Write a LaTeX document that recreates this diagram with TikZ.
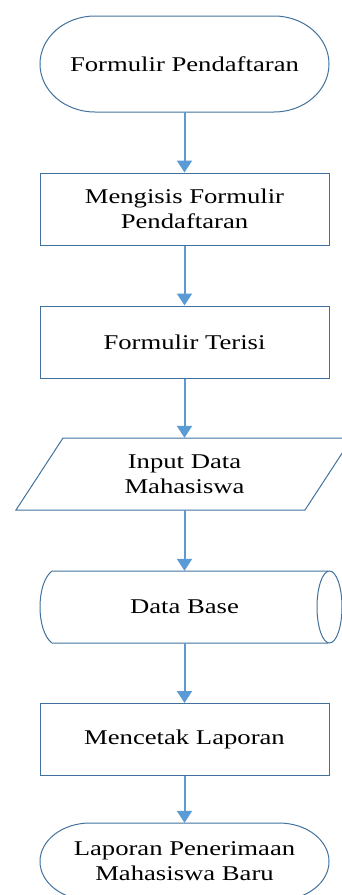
\documentclass[tikz,border=0pt]{standalone}
\usepackage{fontspec}
\setmainfont[FakeStretch=1.27]{Liberation Serif}
\usetikzlibrary{arrows.meta}
\definecolor{edgeblue}{HTML}{41719C}
\definecolor{arrowblue}{HTML}{5B9BD5}
\tikzset{
  flowbox/.style={draw=edgeblue, line width=1pt, minimum width=289pt, minimum height=72pt, align=center, inner sep=0pt, font=\fontsize{21}{25}\selectfont},
  ghost/.style={minimum width=289pt, minimum height=72pt, align=center, inner sep=0pt, font=\fontsize{21}{25}\selectfont},
  outline/.style={draw=edgeblue, line width=1pt},
  flowarrow/.style={draw=arrowblue, line width=2pt, -{Triangle[width=15pt,length=12pt]}}
}
\begin{document}
\begin{tikzpicture}[x=1pt,y=-1pt]
\useasboundingbox (0,0) rectangle (342,895);
% terminal 1
\draw[outline] (95,16) -- (274,16) arc[start angle=-90, end angle=90, x radius=55, y radius=48]
  -- (95,112) arc[start angle=90, end angle=270, x radius=55, y radius=48] -- cycle;
\node[ghost, minimum height=96pt] (t1) at (184.5,64) {Formulir Pendaftaran};
\node[flowbox] (r1) at (184.5,209) {Mengisis Formulir\\Pendaftaran};
\node[flowbox] (r2) at (184.5,342) {Formulir Terisi};
\draw[outline] (63,438) -- (352,438) -- (305,510) -- (16,510) -- cycle;
\node[ghost] (p1) at (184.5,474) {Input Data\\Mahasiswa};
\draw[outline] (52,571) -- (328,571) (52,643) -- (328,643)
  (52,571) .. controls (36,583) and (36,631) .. (52,643);
\draw[outline] (329.5,607) ellipse [x radius=12.5, y radius=36];
\node[ghost] (db) at (184.5,607) {Data Base};
\node[flowbox] (r3) at (184.5,739.5) {Mencetak Laporan};
% terminal 2
\draw[outline] (90,823) -- (279,823) arc[start angle=-90, end angle=90, x radius=50, y radius=38.5]
  -- (90,900) arc[start angle=90, end angle=270, x radius=50, y radius=38.5] -- cycle;
\node[ghost, minimum height=77pt] (t2) at (184.5,861.5) {Laporan Penerimaan\\Mahasiswa Baru};
\draw[flowarrow] (t1) -- (r1);
\draw[flowarrow] (r1) -- (r2);
\draw[flowarrow] (r2) -- (p1);
\draw[flowarrow] (p1) -- (db);
\draw[flowarrow] (db) -- (r3);
\draw[flowarrow] (r3) -- (t2);
\end{tikzpicture}
\end{document}
